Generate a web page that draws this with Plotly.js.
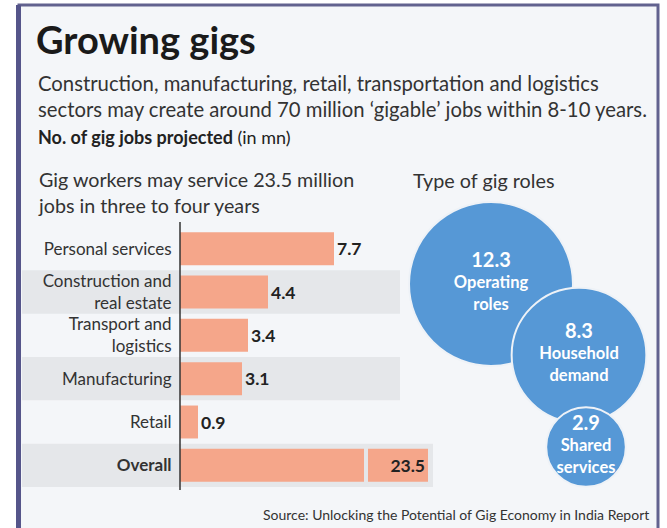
<!DOCTYPE html>
<html>
<head>
<meta charset="utf-8">
<script src="https://cdn.plot.ly/plotly-3.0.1.min.js"></script>
<style>html,body{margin:0;padding:0;background:#fff;}#chart{width:667px;height:528px;}</style>
</head>
<body>
<div id="chart"></div>
<script>
// ---- data ----
const categories = ["Personal services", "Construction and<br>real estate", "Transport and<br>logistics", "Manufacturing", "Retail", "<b>Overall</b>"];
const jobs = [7.7, 4.4, 3.4, 3.1, 0.9, 23.5];
const roleNames = ["Operating<br>roles", "Household<br>demand", "Shared<br>services"];
const roleValues = [12.3, 8.3, 2.9];

// ---- layout helpers (pixel -> paper) ----
const W = 667, H = 528;
const px = x => x / W;
const py = y => 1 - y / H;
const FONT = "Lato, 'Open Sans', sans-serif";
const barColor = "#f5a68a";
const bubbleColor = "#5698d6";
// bubble placement (layout only, in pixel space of the hidden overlay axis)
const bubbleX = [491, 579, 586];
const bubbleY = [284, 355, 447];

const overallIdx = jobs.length - 1;

const traces = [
  {
    type: "bar", orientation: "h",
    y: categories, x: jobs,
    xaxis: "x", yaxis: "y",
    marker: {color: barColor},
    text: jobs.map((v, i) => i === overallIdx ? "" : v.toFixed(1)),
    textposition: "outside",
    textfont: {family: FONT, size: 17.5, color: "#222", weight: 700},
    cliponaxis: false,
    hoverinfo: "skip"
  },
  {
    type: "bar", orientation: "h",
    y: [categories[overallIdx]], x: [jobs[overallIdx]],
    xaxis: "x2", yaxis: "y",
    marker: {color: barColor},
    text: [jobs[overallIdx].toFixed(1)],
    textposition: "inside", insidetextanchor: "end",
    textfont: {family: FONT, size: 17.5, color: "#222", weight: 700},
    hoverinfo: "skip"
  },
  {
    type: "scatter", mode: "markers+text",
    x: bubbleX, y: bubbleY,
    xaxis: "x3", yaxis: "y3",
    marker: {
      size: roleValues, sizemode: "area", sizeref: 12.3 / (2 * 82 * 82),
      color: bubbleColor, opacity: 1,
      line: {color: "#eef2f7", width: 2}
    },
    text: roleValues.map((v, i) => '<span style="font-size:20px">' + v.toFixed(1) + '</span><br>' + roleNames[i]),
    textposition: "middle center",
    textfont: {family: FONT, size: 16.5, color: "#ffffff", weight: 700},
    hoverinfo: "skip"
  }
];

const bands = [1, 3, 5].map(i => ({
  type: "rect", xref: "paper", yref: "y", layer: "below",
  x0: px(22), x1: px(i === 5 ? 433 : 400), y0: i - 0.5, y1: i + 0.5,
  fillcolor: "#e5e7ea", line: {width: 0}
}));

const shapes = [
  // frame
  {type: "rect", xref: "paper", yref: "paper", layer: "below",
   x0: px(19), x1: px(658), y0: py(535), y1: py(5),
   fillcolor: "#f4f6f9", line: {color: "#62628f", width: 3}},
  {type: "rect", xref: "paper", yref: "paper", layer: "below",
   x0: px(16), x1: px(21), y0: py(535), y1: py(5),
   fillcolor: "#55558a", line: {width: 0}},
  ...bands,
  // axis line
  {type: "line", xref: "paper", yref: "paper",
   x0: px(180), x1: px(180), y0: py(490), y1: py(222),
   line: {color: "#333", width: 1.5}}
];

const ann = (text, x, y, xanchor, size, color) => ({
  text, x: px(x), y: py(y), xref: "paper", yref: "paper",
  xanchor, yanchor: "middle", align: xanchor, showarrow: false,
  font: {family: FONT, size, color}
});

const annotations = [
  ann("Construction, manufacturing, retail, transportation and logistics<br>sectors may create around 70 million ‘gigable’ jobs within 8-10 years.", 36, 96, "left", 20.3, "#333"),
  ann("<b>No. of gig jobs projected</b> (in mn)", 36, 137, "left", 18, "#222"),
  ann("Gig workers may service 23.5 million<br>jobs in three to four years", 36, 193, "left", 19.7, "#333"),
  ann("Type of gig roles", 411, 180, "left", 19.8, "#333"),
  ann("Source: Unlocking the Potential of Gig Economy in India Report", 651, 514, "right", 14, "#333")
];

const layout = {
  width: W, height: H,
  margin: {l: 0, r: 0, t: 0, b: 0},
  paper_bgcolor: "#ffffff",
  plot_bgcolor: "rgba(0,0,0,0)",
  showlegend: false,
  title: {text: "<b>Growing gigs</b>", x: px(36), xanchor: "left", xref: "paper",
          y: py(41), yanchor: "middle", yref: "paper",
          font: {family: FONT, size: 38, color: "#1a1a1a"}},
  bargap: 0.24,
  xaxis: {domain: [px(180), px(364)], range: [0, 9.2], visible: false, fixedrange: true},
  xaxis2: {domain: [px(368), px(428)], range: [20.5, 23.5], visible: false, anchor: "y", fixedrange: true},
  yaxis: {domain: [py(487), py(227)], autorange: "reversed", type: "category",
          showline: false, showgrid: false, zeroline: false,
          ticks: "outside", ticklen: 4, tickcolor: "rgba(0,0,0,0)",
          tickfont: {family: FONT, size: 17, color: "#333"}},
  xaxis3: {domain: [0, 1], range: [0, W], visible: false, anchor: "y3"},
  yaxis3: {domain: [0, 1], range: [H, 0], visible: false, anchor: "x3"},
  shapes: shapes,
  annotations: annotations
};

Plotly.newPlot("chart", traces, layout, {displayModeBar: false, staticPlot: true});
</script>
</body>
</html>
